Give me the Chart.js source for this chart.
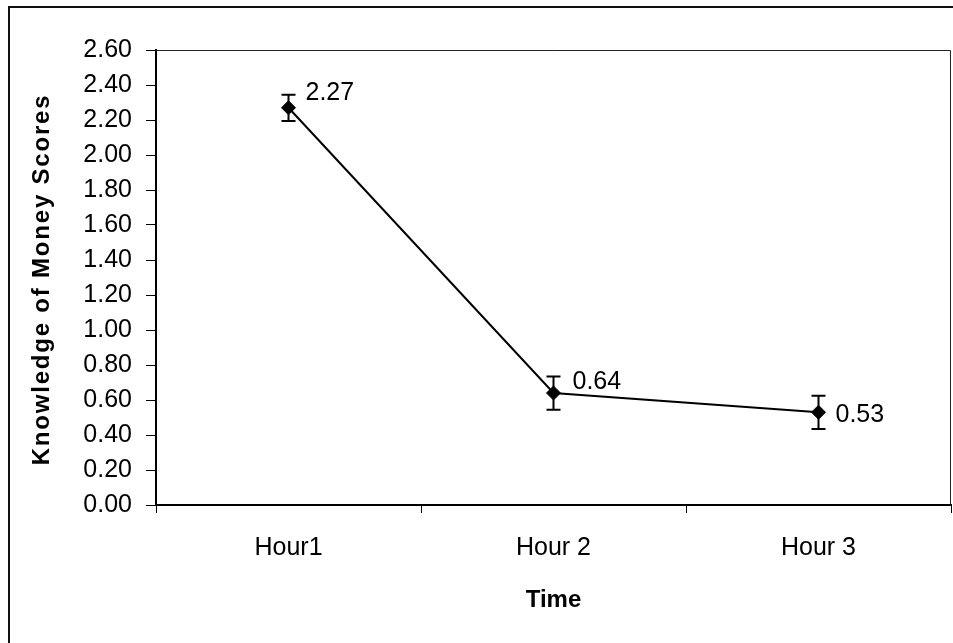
<!DOCTYPE html>
<html>
<head>
<meta charset="utf-8">
<script src="https://cdn.jsdelivr.net/npm/chart.js@4.4.1/dist/chart.umd.min.js"></script>
<style>
  html, body { margin: 0; padding: 0; background: #fff; }
  canvas { display: block; }
</style>
</head>
<body>
<canvas id="myChart" width="953" height="643"></canvas>
<script>
// chart data
let hours = ["Hour1", "Hour 2", "Hour 3"];
let scores = [2.27, 0.64, 0.53];
let errors = [0.075, 0.095, 0.095];
let yTicks = [0, 0.2, 0.4, 0.6, 0.8, 1.0, 1.2, 1.4, 1.6, 1.8, 2.0, 2.2, 2.4, 2.6];

// label nudges (px) so they sit where the original had them
let labelDx = [17, 19, 17];
let labelDy = [-15, -11, 3];

const fontFam = "'Liberation Sans', Arial, sans-serif";

// frame, error bars, value labels, y title
const extras = {
  id: "extras",
  beforeDraw(chart) {
    const c = chart.ctx;
    c.save();
    c.fillStyle = "#fff";
    c.fillRect(0, 0, chart.width, chart.height);
    c.strokeStyle = "#111";
    c.lineWidth = 2;
    c.strokeRect(9, 7, chart.width + 20, chart.height + 20);
    c.restore();
  },
  afterDatasetsDraw(chart) {
    const c = chart.ctx;
    const xs = chart.scales.x;
    const ys = chart.scales.y;
    c.save();
    c.strokeStyle = "#000";
    c.lineWidth = 2;
    for (let i = 0; i < scores.length; i++) {
      let x = xs.getPixelForValue(i);
      let yTop = ys.getPixelForValue(scores[i] + errors[i]);
      let yBot = ys.getPixelForValue(scores[i] - errors[i]);
      c.beginPath();
      c.moveTo(x, yTop);
      c.lineTo(x, yBot);
      c.moveTo(x - 7, yTop);
      c.lineTo(x + 7, yTop);
      c.moveTo(x - 7, yBot);
      c.lineTo(x + 7, yBot);
      c.stroke();
    }
    c.fillStyle = "#000";
    c.font = "25px " + fontFam;
    c.textAlign = "left";
    c.textBaseline = "middle";
    for (let i = 0; i < scores.length; i++) {
      let x = xs.getPixelForValue(i);
      let y = ys.getPixelForValue(scores[i]);
      c.fillText(scores[i].toFixed(2), x + labelDx[i], y + labelDy[i]);
    }
    c.restore();
  },
  afterDraw(chart) {
    const c = chart.ctx;
    const a = chart.chartArea;
    c.save();
    // thin top and right border of the plot area
    c.strokeStyle = "#222";
    c.lineWidth = 1;
    c.beginPath();
    c.moveTo(a.left, a.top + 0.5);
    c.lineTo(a.right - 0.5, a.top + 0.5);
    c.lineTo(a.right - 0.5, a.bottom);
    c.stroke();
    // y axis title
    c.translate(42, (a.top + a.bottom) / 2 + 2);
    c.rotate(-Math.PI / 2);
    c.fillStyle = "#000";
    c.font = "bold 24px " + fontFam;
    c.letterSpacing = "1.8px";
    c.textAlign = "center";
    c.textBaseline = "middle";
    c.fillText("Knowledge of Money Scores", 0, 0);
    c.restore();
  }
};

let ctx = document.getElementById("myChart").getContext("2d");
let myChart = new Chart(ctx, {
  type: "line",
  data: {
    labels: hours,
    datasets: [
      {
        label: "",
        data: scores,
        borderColor: "#000",
        backgroundColor: "#000",
        borderWidth: 2,
        tension: 0,
        pointStyle: "rectRot",
        pointRadius: 7,
        pointBorderWidth: 1,
      },
    ],
  },
  options: {
    responsive: false,
    animation: false,
    layout: {
      autoPadding: false,
      padding: { top: 50, right: 2, left: 0, bottom: 0 },
    },
    plugins: {
      legend: { display: false },
      tooltip: { enabled: false },
    },
    scales: {
      x: {
        offset: true,
        afterFit(scale) {
          scale.height = 138;
        },
        grid: {
          offset: true,
          drawOnChartArea: false,
          tickLength: 8,
          tickWidth: 1,
          color: "#000",
        },
        border: { color: "#000", width: 2 },
        ticks: {
          padding: 20,
          color: "#000",
          font: { family: fontFam, size: 25 },
        },
        title: {
          display: true,
          text: "Time",
          color: "#000",
          padding: { top: 0, bottom: 28 },
          font: { family: fontFam, size: 24, weight: "bold" },
        },
      },
      y: {
        min: 0,
        max: 2.6,
        afterFit(scale) {
          scale.width = 156;
        },
        afterBuildTicks(scale) {
          scale.ticks = yTicks.map((v) => ({ value: v }));
        },
        grid: {
          drawOnChartArea: false,
          tickLength: 10,
          tickWidth: 1,
          color: "#000",
        },
        border: { color: "#000", width: 2 },
        ticks: {
          padding: 14,
          color: "#000",
          font: { family: fontFam, size: 25 },
          callback: (v) => Number(v).toFixed(2),
        },
      },
    },
  },
  plugins: [extras],
});
</script>
</body>
</html>
